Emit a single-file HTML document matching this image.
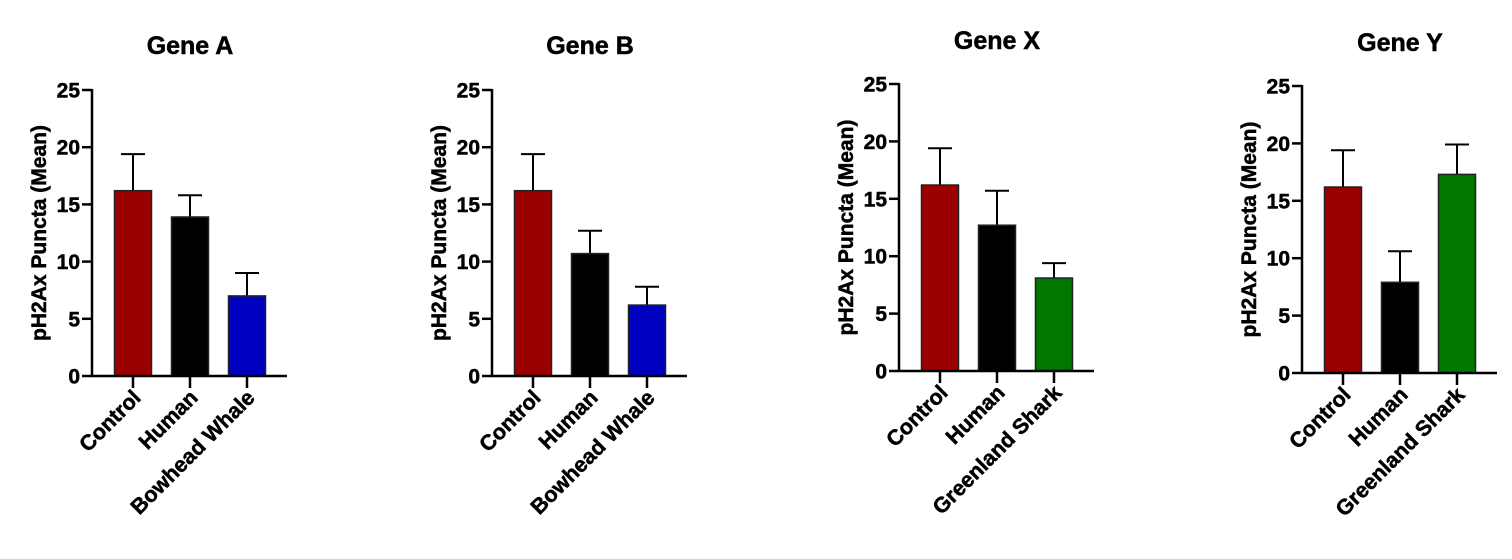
<!DOCTYPE html>
<html><head><meta charset="utf-8">
<style>
body{margin:0;background:#fff;width:1512px;height:554px;overflow:hidden}
svg text{font-family:"Liberation Sans",Arial,sans-serif;font-weight:bold;fill:#000;stroke:#000;stroke-width:0.5}
</style></head>
<body>
<svg id="chart" width="1512" height="554" xmlns="http://www.w3.org/2000/svg"></svg>
<script>
const panelTitles = ["Gene A","Gene B","Gene X","Gene Y"];
const categoriesA = ["Control","Human","Bowhead Whale"];
const categoriesB = ["Control","Human","Bowhead Whale"];
const categoriesX = ["Control","Human","Greenland Shark"];
const categoriesY = ["Control","Human","Greenland Shark"];
const meansA = [16.2, 13.9, 7.0];
const errA = [19.4, 15.8, 9.0];
const meansB = [16.2, 10.7, 6.2];
const errB = [19.4, 12.7, 7.8];
const meansX = [16.2, 12.7, 8.1];
const errX = [19.4, 15.7, 9.4];
const meansY = [16.2, 7.9, 17.3];
const errY = [19.4, 10.6, 19.9];
const yTicks = [0,5,10,15,20,25];
const colorsAB = ["#9b0000","#000000","#0000c0"];
const colorsXY = ["#9b0000","#000000","#007800"];

const NS = "http://www.w3.org/2000/svg";
const svg = document.getElementById("chart");
function mk(tag, attrs, parent){
  const e = document.createElementNS(NS, tag);
  for (const k in attrs) e.setAttribute(k, attrs[k]);
  (parent||svg).appendChild(e);
  return e;
}
const layouts = [
  {ax:92, y0:376, y25:90, title:45},
  {ax:492, y0:376, y25:90, title:45},
  {ax:899, y0:371, y25:84, title:40},
  {ax:1302, y0:373, y25:86, title:42}
];
const cats = [categoriesA,categoriesB,categoriesX,categoriesY];
const means = [meansA,meansB,meansX,meansY];
const errs = [errA,errB,errX,errY];
const cols = [colorsAB,colorsAB,colorsXY,colorsXY];

layouts.forEach((L, p) => {
  const g = mk("g", {});
  
  
  const yS = v => L.y0 - (v/25)*(L.y0-L.y25);
  const xC = i => L.ax + 41 + i*57;
  const cx = L.ax + 98;
  const t = mk("text", {x:cx, y:L.title+9, "text-anchor":"middle", "font-size":"25"}, g);
  t.textContent = panelTitles[p];
  
  
  means[p].forEach((m, i) => {
    const top = yS(m), eTop = yS(errs[p][i]);
    const eb = mk("path", {d:`M${xC(i)},${top}V${eTop}M${xC(i)-12},${eTop}H${xC(i)+12}`, stroke:"#000", "stroke-width":"2", fill:"none"}, g);
    
    
    const r = mk("rect", {x:xC(i)-18.5, y:top, width:37, height:L.y0-top, fill:cols[p][i], stroke:"#222", "stroke-width":"1.5"}, g);
    
    
    const tk = mk("line", {x1:xC(i), x2:xC(i), y1:L.y0, y2:L.y0+12, stroke:"#000", "stroke-width":"2.5"}, g);
    
    
    const lb = mk("text", {x:0, y:0, "text-anchor":"end", "font-size":"21.5", transform:`translate(${xC(i)+9},${L.y0+23}) rotate(-45)`}, g);
    lb.textContent = cats[p][i];
    
    
  });
  const ya = mk("line", {x1:L.ax, x2:L.ax, y1:L.y25-1, y2:L.y0+1, stroke:"#000", "stroke-width":"2.5"}, g);
  
  
  const xa = mk("line", {x1:L.ax, x2:L.ax+195, y1:L.y0, y2:L.y0, stroke:"#000", "stroke-width":"2.5"}, g);
  
  
  yTicks.forEach(v => {
    const tl = mk("line", {x1:L.ax-10, x2:L.ax, y1:yS(v), y2:yS(v), stroke:"#000", "stroke-width":"2.5"}, g);
    
    
    const tt = mk("text", {x:L.ax-12, y:yS(v)+7.5, "text-anchor":"end", "font-size":"21"}, g);
    tt.textContent = v;
    
    
  });
  const yt = mk("text", {x:0, y:0, "text-anchor":"middle", "font-size":"21", transform:`translate(${L.ax-46},${(L.y0+L.y25)/2}) rotate(-90)`}, g);
  yt.textContent = "pH2Ax Puncta (Mean)";
  
  
});
</script>
</body></html>
